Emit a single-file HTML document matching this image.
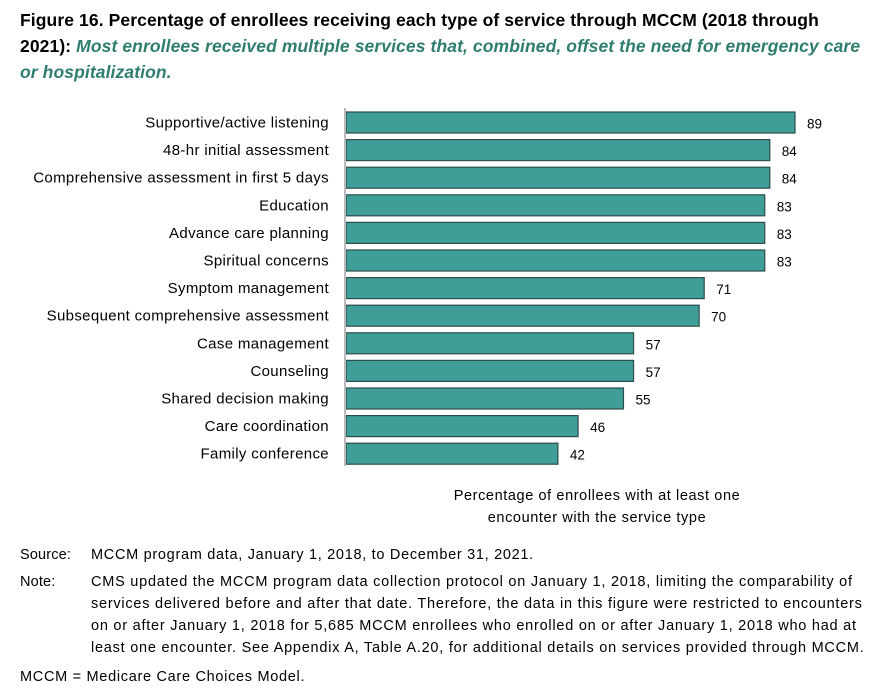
<!DOCTYPE html>
<html><head><meta charset="utf-8"><style>
body{margin:0;width:876px;height:699px;background:#fff;font-family:"Liberation Sans",sans-serif;color:#000;overflow:hidden;position:relative}
.t{position:absolute;left:20px;top:7px;font-size:17.5px;font-weight:bold;line-height:26px;white-space:nowrap;letter-spacing:0.1px}
.t i{color:#2e7d6f}
.s{position:absolute;font-size:14.5px;line-height:22px;white-space:nowrap;letter-spacing:0.7px}
</style></head><body>
<div class="t">Figure 16. Percentage of enrollees receiving each type of service through MCCM (2018 through<br>2021): <i>Most enrollees received multiple services that, combined, offset the need for emergency care<br>or hospitalization.</i></div>
<svg id="c" width="876" height="699" style="position:absolute;left:0;top:0"></svg>
<div class="s" style="left:20px;top:544px;letter-spacing:0.15px">Source:</div>
<div class="s" style="left:91px;top:544px">MCCM program data, January 1, 2018, to December 31, 2021.</div>
<div class="s" style="left:20px;top:571px;letter-spacing:0.15px">Note:</div>
<div class="s" style="left:91px;top:571px;letter-spacing:0.76px">CMS updated the MCCM program data collection protocol on January 1, 2018, limiting the comparability of<br>services delivered before and after that date. Therefore, the data in this figure were restricted to encounters<br>on or after January 1, 2018 for 5,685 MCCM enrollees who enrolled on or after January 1, 2018 who had at<br>least one encounter. See Appendix A, Table A.20, for additional details on services provided through MCCM.</div>
<div class="s" style="left:20px;top:666px">MCCM = Medicare Care Choices Model.</div>
<script>
const categories=["Supportive/active listening","48-hr initial assessment","Comprehensive assessment in first 5 days","Education","Advance care planning","Spiritual concerns","Symptom management","Subsequent comprehensive assessment","Case management","Counseling","Shared decision making","Care coordination","Family conference"];
const values=[89,84,84,83,83,83,71,70,57,57,55,46,42];
const svg=document.getElementById('c');const NS='http://www.w3.org/2000/svg';
const x0=346,k=5.045,y0=122.5,pitch=27.6,bh=21;
function xs(v){return x0+v*k}
function yc(i){return y0+i*pitch}
function mk(t,a){const e=document.createElementNS(NS,t);for(const n in a)e.setAttribute(n,a[n]);svg.appendChild(e);return e}
categories.forEach((c,i)=>{
const r=mk('rect',{x:x0,y:yc(i)-bh/2,width:xs(values[i])-x0,height:bh,fill:'#409e99',stroke:'#2c4c4a','stroke-width':1.2});


const l=mk('text',{x:329,y:yc(i)+5,'text-anchor':'end','font-size':15,'letter-spacing':0.35,'font-family':'Liberation Sans, sans-serif'});l.textContent=c;


const v=mk('text',{x:xs(values[i])+12,y:yc(i)+6,'font-size':13.5,'font-family':'Liberation Sans, sans-serif'});v.textContent=values[i];


});
const ax=mk('line',{x1:x0-1,x2:x0-1,y1:108,y2:466,stroke:'#bbb','stroke-width':2});


[["Percentage of enrollees with at least one",500],["encounter with the service type",522]].forEach(([t,y])=>{const e=mk('text',{x:597,y:y,'text-anchor':'middle','font-size':14.5,'letter-spacing':0.6,'font-family':'Liberation Sans, sans-serif'});e.textContent=t;

});
</script>
</body></html>
